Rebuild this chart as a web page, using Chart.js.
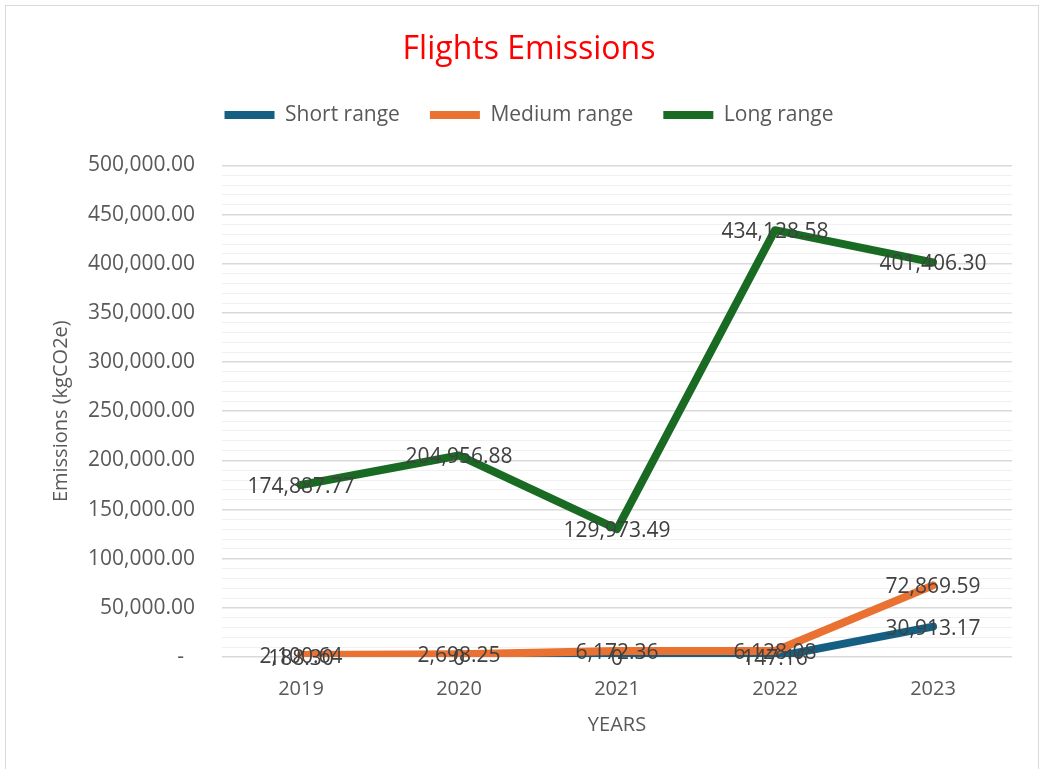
<!DOCTYPE html>
<html>
<head>
<meta charset="utf-8">
<script src="https://cdn.jsdelivr.net/npm/chart.js@4"></script>
<style>
  body { margin: 0; background: #fff; }
  #box {
    position: absolute; left: 5px; top: 5px;
    width: 1034px; height: 780px;
    border: 1px solid #d9d9d9; box-sizing: border-box;
  }
  #box canvas { display: block; }
</style>
</head>
<body>
<div id="box"><canvas id="myChart" width="1032" height="778"></canvas></div>
<script>
const years = ['2019', '2020', '2021', '2022', '2023'];
const shortRange = [188.30, 0, 0, 147.16, 30913.17];
const mediumRange = [2100.64, 2698.25, 6172.36, 6128.08, 72869.59];
const longRange = [174887.77, 204956.88, 129973.49, 434128.58, 401406.30];

const grey = '#595959';
const font = 'Open Sans';

const fmt = (v) => {
    if (v === 0) return '0';
    return v.toLocaleString('en-US', { minimumFractionDigits: 2, maximumFractionDigits: 2 });
};

// Labels drawn centred on each point, like Excel's data labels
const pointLabels = {
    id: 'pointLabels',
    afterDatasetsDraw(chart) {
        const ctx = chart.ctx;
        ctx.save();
        ctx.font = '21px "' + font + '"';
        ctx.fillStyle = '#404040';
        ctx.textAlign = 'center';
        ctx.textBaseline = 'middle';
        chart.data.datasets.forEach((ds, i) => {
            const meta = chart.getDatasetMeta(i);
            meta.data.forEach((pt, j) => {
                ctx.fillText(fmt(ds.data[j]), pt.x, pt.y + 2);
            });
        });
        ctx.restore();
    }
};

// Extra room under the legend
const legendGap = {
    id: 'legendGap',
    beforeInit(chart) {
        const fit = chart.legend.fit;
        chart.legend.fit = function () {
            fit.bind(chart.legend)();
            this.height += 30;
        };
    }
};

const lineSet = (label, data, color, order) => ({
    label: label,
    data: data,
    borderColor: color,
    backgroundColor: color,
    borderWidth: 8,
    borderCapStyle: 'round',
    borderJoinStyle: 'round',
    pointRadius: 0,
    tension: 0,
    order: order
});

new Chart(document.getElementById('myChart'), {
    type: 'line',
    data: {
        labels: years,
        datasets: [
            lineSet('Short range', shortRange, '#156082', 2),
            lineSet('Medium range', mediumRange, '#E97132', 1),
            lineSet('Long range', longRange, '#196B24', 0)
        ]
    },
    options: {
        responsive: false,
        animation: false,
        layout: { padding: { left: 40, right: 26, top: 0, bottom: 43 } },
        plugins: {
            title: {
                display: true,
                text: 'Flights Emissions',
                color: '#ff0000',
                font: { family: font, size: 32, weight: 'normal' },
                padding: { top: 25, bottom: 5 }
            },
            legend: {
                labels: {
                    usePointStyle: true,
                    pointStyle: 'line',
                    pointStyleWidth: 50,
                    color: grey,
                    font: { family: font, size: 21 },
                    padding: 30,
                    sort: (a, b) => a.datasetIndex - b.datasetIndex
                }
            },
            tooltip: { enabled: false }
        },
        scales: {
            x: {
                offset: true,
                grid: { display: false },
                border: { display: false },
                ticks: { color: grey, font: { family: font, size: 20 }, padding: 12 },
                title: {
                    display: true, text: 'YEARS', color: grey,
                    font: { family: font, size: 20 }, padding: { top: 0 }
                }
            },
            y: {
                min: 0,
                max: 500000,
                border: { display: false },
                afterFit: (scale) => { scale.width = 176; },
                grid: {
                    drawTicks: false,
                    color: (c) => (c.tick && c.tick.value % 50000 === 0) ? '#d9d9d9' : '#f0f0f0',
                    lineWidth: (c) => (c.tick && c.tick.value % 50000 === 0) ? 1.5 : 1
                },
                ticks: {
                    stepSize: 10000,
                    autoSkip: false,
                    padding: 27,
                    color: grey,
                    font: { family: font, size: 21 },
                    callback: (v) => {
                        if (v % 50000 !== 0) return '';
                        if (v === 0) return '-  ';
                        return fmt(v);
                    }
                },
                title: {
                    display: true, text: 'Emissions (kgCO2e)', color: grey,
                    font: { family: font, size: 20 }, padding: 3
                }
            }
        }
    },
    plugins: [pointLabels, legendGap]
});
</script>
</body>
</html>
